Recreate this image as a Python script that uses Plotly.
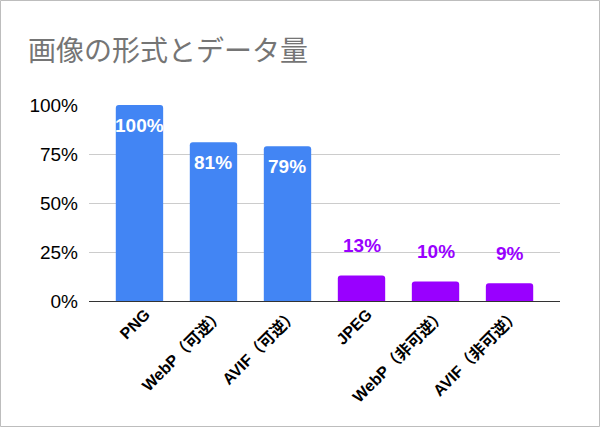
import plotly.graph_objects as go

categories = ["PNG", "WebP（可逆）", "AVIF（可逆）", "JPEG", "WebP（非可逆）", "AVIF（非可逆）"]
ratio = [1.00, 0.81, 0.79, 0.13, 0.10, 0.09]
labels = ["100%", "81%", "79%", "13%", "10%", "9%"]
lossless = [True, True, True, False, False, False]

BLUE = "#4285F4"
PURPLE = "#9900FF"
FONT = "Arial, Liberation Sans, Noto Sans CJK JP, sans-serif"

colors = [BLUE if l else PURPLE for l in lossless]

fig = go.Figure()
fig.add_trace(go.Bar(x=categories, y=ratio, marker_color=colors,
                     marker_line_width=0, hoverinfo="skip"))

# value labels: white inside the tall bars, purple floating above the short ones
for c, v, t, l in zip(categories, ratio, labels, lossless):
    if l:
        fig.add_annotation(x=c, y=v, text="<b>" + t + "</b>", showarrow=False,
                           yanchor="middle", yshift=-20,
                           font=dict(family=FONT, size=19, color="white"))
    else:
        fig.add_annotation(x=c, y=v, text="<b>" + t + "</b>", showarrow=False,
                           yanchor="middle", yshift=30,
                           font=dict(family=FONT, size=19, color=PURPLE))

W, H = 600, 427
ml, mr, mt, mb = 89, 40, 105, 126
pw, ph = W - ml - mr, H - mt - mb
fig.add_shape(type="rect", xref="paper", yref="paper",
              x0=-ml / pw + 0.5 / pw, x1=1 + (mr - 0.5) / pw,
              y0=-mb / ph + 0.5 / ph, y1=1 + (mt - 0.5) / ph,
              line=dict(color="#bdbdbd", width=1), layer="below")

fig.update_layout(
    width=W, height=H,
    margin=dict(l=ml, r=mr, t=mt, b=mb),
    paper_bgcolor="white", plot_bgcolor="white",
    title=dict(text="画像の形式とデータ量", x=28 / W, xanchor="left",
               y=1 - 51 / H, yanchor="middle",
               font=dict(family=FONT, size=28, color="#757575")),
    bargap=0.36, barcornerradius=3, showlegend=False,
    font=dict(family=FONT, color="#000000"),
)
fig.update_xaxes(range=[-0.682, 5.682], tickangle=-45, showgrid=False,
                 showline=False, ticks="", ticklabelshift=6,
                 tickfont=dict(family=FONT, size=16, color="#000000", weight="bold"))
fig.update_yaxes(range=[0, 1], tickvals=[0, 0.25, 0.5, 0.75, 1.0],
                 ticktext=["0%", "25%", "50%", "75%", "100%"],
                 showgrid=True, gridcolor="#cccccc", gridwidth=1,
                 zeroline=True, zerolinecolor="#333333", zerolinewidth=1,
                 ticks="", ticklabelstandoff=10,
                 tickfont=dict(family=FONT, size=19, color="#000000"))

fig.write_html("out.html", config={"displayModeBar": False},
               post_script="document.body.style.margin='0';")
